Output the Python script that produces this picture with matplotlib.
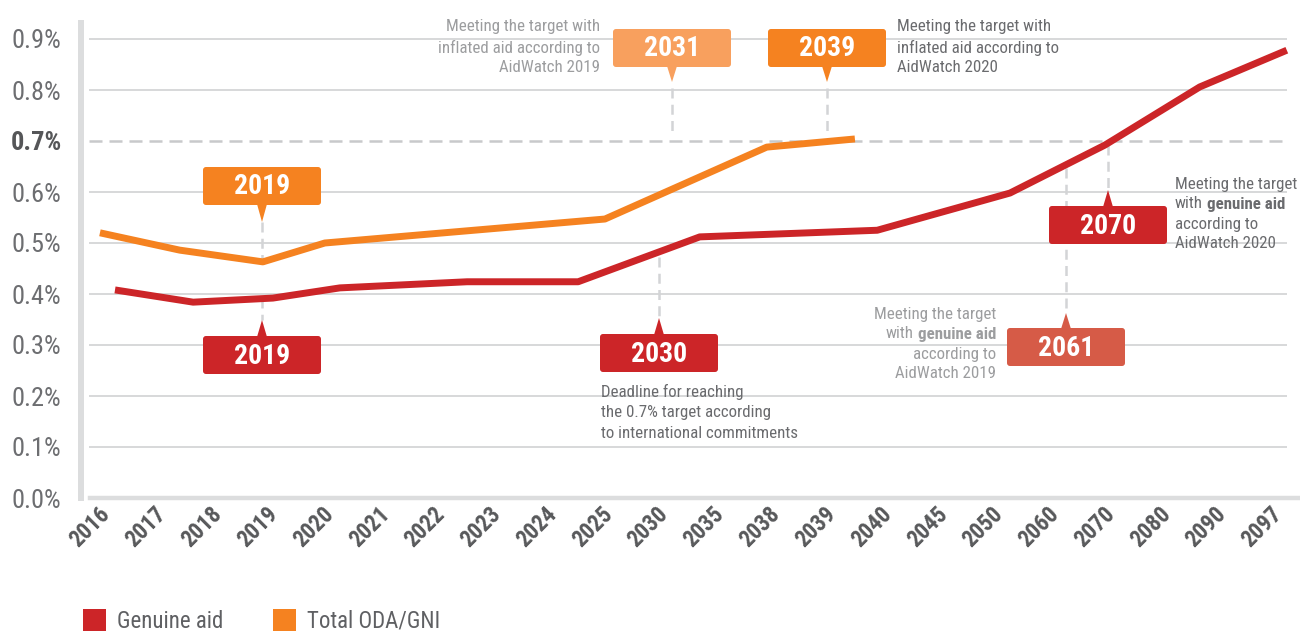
import matplotlib
matplotlib.use("Agg")
import matplotlib.pyplot as plt
from matplotlib.patches import FancyBboxPatch, Polygon, Rectangle

plt.rcParams['font.family'] = ['Roboto Condensed', 'Roboto', 'DejaVu Sans']

# x axis categories
years = ["2016", "2017", "2018", "2019", "2020", "2021", "2022", "2023", "2024", "2025",
         "2030", "2035", "2038", "2039", "2040", "2045", "2050", "2060", "2070", "2080",
         "2090", "2097"]
y_ticks = [0.0, 0.1, 0.2, 0.3, 0.4, 0.5, 0.6, 0.7, 0.8, 0.9]
y_labels = ["0.0%", "0.1%", "0.2%", "0.3%", "0.4%", "0.5%", "0.6%", "0.7%", "0.8%", "0.9%"]
target = 0.7

# series: position along the category axis and value (% of GNI)
genuine_pos = [0.0, 1.40, 2.83, 4.03, 6.31, 8.30, 10.48, 13.66, 16.04, 17.74, 19.44, 21.0]
genuine_val = [0.408, 0.384, 0.392, 0.412, 0.424, 0.424, 0.512, 0.525, 0.598, 0.692, 0.806, 0.878]
total_pos = [-0.27, 1.16, 2.65, 3.76, 8.78, 11.68, 13.26]
total_val = [0.520, 0.486, 0.463, 0.500, 0.547, 0.688, 0.704]

RED = "#CC2528"
ORANGE = "#F58220"
LIGHT_ORANGE = "#F8A05E"
LIGHT_RED = "#D65B47"
GRID = "#D4D5D7"
BAR = "#DCDDDE"
DARK_TXT = "#6A6B6E"
LIGHT_TXT = "#9C9D9F"

W, H = 1300, 631
# pixel layout of the plotting area
X0PX, DX = 115.0, 55.8     # px of first category, px per category
Y0PX, DY = 498.0, 510.0    # px of 0.0%, px per 1 %-point


def xd(px):
    return (px - X0PX) / DX


def yd(py):
    return (Y0PX - py) / DY


fig = plt.figure(figsize=(W / 100, H / 100), dpi=100)
ax_left, ax_top = 81, 23
ax = fig.add_axes([ax_left / W, (H - Y0PX) / H, (W - ax_left) / W, (Y0PX - ax_top) / H])
ax.set_xlim(xd(ax_left), xd(W))
ax.set_ylim(0, yd(ax_top))

for s in ["top", "right"]:
    ax.spines[s].set_visible(False)
ax.spines["left"].set_color(BAR)
ax.spines["left"].set_linewidth(4.3)
ax.spines["bottom"].set_color(BAR)
ax.spines["bottom"].set_linewidth(3.2)
ax.spines["bottom"].set_bounds(xd(90), xd(W))

# horizontal grid
for v in y_ticks[1:]:
    if v == target:
        continue
    ax.hlines(v, xd(89), xd(1287), color=GRID, lw=1.3, zorder=1)
ax.hlines(target, xd(89), xd(1287), color="#C8C9CB", lw=1.8,
          linestyle=(0, (5.2, 2.8)), zorder=1)

ax.set_xticks(range(len(years)))
ax.set_xticklabels(years, rotation=45, ha="right", va="bottom", rotation_mode="anchor",
                   fontsize=16.5, fontweight="bold", color="#58595B")
ax.set_yticks(y_ticks)
ax.set_yticklabels(y_labels, fontsize=19, color="#6D6E71")
for lab in ax.get_yticklabels():
    if lab.get_text() == "0.7%":
        lab.set_fontweight("bold")
        lab.set_color("#555658")
ax.tick_params(axis="both", length=0)
ax.tick_params(axis="y", pad=14)
ax.tick_params(axis="x", pad=15)

ax.plot(genuine_pos, genuine_val, color=RED, lw=5, solid_capstyle="butt", zorder=4)
ax.plot(total_pos, total_val, color=ORANGE, lw=5, solid_capstyle="butt", zorder=4)

BW, BH = 118, 38
aspect = DX / DY


def callout(label, xc, top, tip, color, dash):
    ax.vlines(xd(xc), yd(dash[0]), yd(dash[1]), color="#D3D4D6", lw=1.8,
              linestyle=(0, (4, 2.5)), zorder=2)
    box = FancyBboxPatch((xd(xc - BW / 2), yd(top + BH)), BW / DX, BH / DY,
                         boxstyle="round,pad=0,rounding_size=%f" % (3 / DX),
                         mutation_aspect=aspect, fc=color, ec="none", zorder=5)
    ax.add_patch(box)
    base = top + BH - 1 if tip > top else top + 1
    tri = Polygon([(xd(xc - 5), yd(base)), (xd(xc + 5), yd(base)), (xd(xc), yd(tip))],
                  closed=True, fc=color, ec="none", zorder=5)
    ax.add_patch(tri)
    ax.text(xd(xc), yd(top + BH / 2 + 1), label, ha="center", va="center", color="white",
            fontsize=20, fontweight="bold", zorder=6)


callout("2019", 262, 167, 222, ORANGE, (222, 262))
callout("2019", 262, 336, 320, RED, (298, 320))
callout("2030", 659, 334, 318, RED, (257, 318))
callout("2031", 672, 29, 82, LIGHT_ORANGE, (88, 132))
callout("2039", 827, 29, 82, ORANGE, (88, 132))
callout("2070", 1108, 206, 190, RED, (145, 190))
callout("2061", 1066, 328, 313, LIGHT_RED, (168, 313))

FS = 12.2


def note(lines, x, y_first, ha, color, step=20.5):
    for i, line in enumerate(lines):
        y = yd(y_first + i * step)
        if isinstance(line, tuple):
            pre, bold = line
            if ha == "left":
                t = ax.text(xd(x), y, pre, ha="left", va="center", fontsize=FS, color=color)
                ax.annotate(bold, xy=(1, 0.5), xycoords=t, xytext=(3, 0),
                            textcoords="offset points", ha="left", va="center",
                            fontsize=FS, color=color, fontweight="bold")
            else:
                t = ax.text(xd(x), y, bold, ha="right", va="center", fontsize=FS,
                            color=color, fontweight="bold")
                ax.annotate(pre, xy=(0, 0.5), xycoords=t, xytext=(-3, 0),
                            textcoords="offset points", ha="right", va="center",
                            fontsize=FS, color=color)
        else:
            ax.text(xd(x), y, line, ha=ha, va="center", fontsize=FS, color=color,
                    clip_on=False)


note(["Meeting the target with", "inflated aid according to", "AidWatch 2019"],
     600, 27, "right", LIGHT_TXT)
note(["Meeting the target with", "inflated aid according to", "AidWatch 2020"],
     897, 27, "left", DARK_TXT)
note(["Meeting the target", ("with", "genuine aid"), "according to", "AidWatch 2020"],
     1175, 184, "left", DARK_TXT, step=20)
note(["Meeting the target", ("with", "genuine aid"), "according to", "AidWatch 2019"],
     996, 314, "right", LIGHT_TXT, step=20)
note(["Deadline for reaching", "the 0.7% target according", "to international commitments"],
     601, 392, "left", DARK_TXT)

# legend
for x0, color, text in [(83, RED, "Genuine aid"), (273, ORANGE, "Total ODA/GNI")]:
    fig.add_artist(Rectangle((x0 / W, (H - 632) / H), 23 / W, 23 / H,
                             transform=fig.transFigure, fc=color, ec="none"))
    fig.text((x0 + 34) / W, (H - 621) / H, text, ha="left", va="center",
             fontsize=16.5, color="#5F6063")

fig.savefig("out.png", dpi=100)
